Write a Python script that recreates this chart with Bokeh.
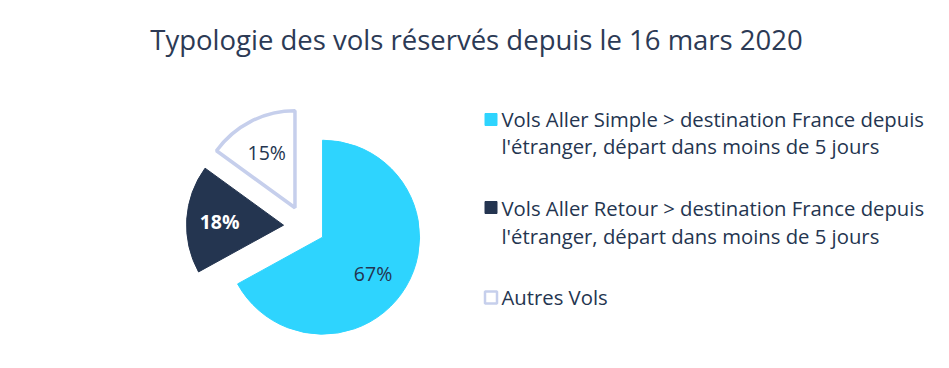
import numpy as np
from bokeh.plotting import figure
from bokeh.models import Range1d, ColumnDataSource
from bokeh.core.properties import value
from bokeh.embed import file_html
from bokeh.resources import INLINE

title = "Typologie des vols réservés depuis le 16 mars 2020"
categories = [
    ["Vols Aller Simple > destination France depuis",
     "l'étranger, départ dans moins de 5 jours"],
    ["Vols Aller Retour > destination France depuis",
     "l'étranger, départ dans moins de 5 jours"],
    ["Autres Vols"],
]
shares = [67, 18, 15]
labels = ["67%", "18%", "15%"]
fills = ["#2ed4fe", "#243550", "#ffffff"]
lines = ["#2ed4fe", "#243550", "#c6cfec"]
line_widths = [1, 1, 3.5]
label_colors = ["#243550", "#ffffff", "#243550"]
label_styles = ["normal", "bold", "normal"]

W, H = 933, 352
FONT = "Open Sans"

p = figure(width=W, height=H, output_backend="svg", toolbar_location=None,
           x_range=Range1d(0, W), y_range=Range1d(0, H), min_border=0,
           background_fill_color="white", border_fill_color="white")
p.axis.visible = False
p.grid.visible = False
p.outline_line_color = None

def page(px, py):
    return px, H - py

# pie geometry (clockwise from 12 o'clock)
cx, cy = page(304, 226)
R = 97
explode = 21
vals = np.array(shares, dtype=float)
frac = vals / vals.sum()
cum = np.concatenate([[0], np.cumsum(frac)])
start = np.pi / 2 - 2 * np.pi * cum[1:]
end = np.pi / 2 - 2 * np.pi * cum[:-1]
mid = (start + end) / 2
xs = cx + explode * np.cos(mid)
ys = cy + explode * np.sin(mid)

src = ColumnDataSource(dict(x=xs, y=ys, start=start, end=end, fill=fills, line=lines,
                            lw=line_widths))
p.wedge(x="x", y="y", radius=R, start_angle="start", end_angle="end",
        fill_color="fill", line_color="line", line_width="lw", source=src)

# labels
lr = np.array([0.64, 0.66, 0.64])
lang = mid + np.radians([-5, 0, 0])
lx = xs + lr * R * np.cos(lang)
ly = ys + lr * R * np.sin(lang)
lsrc = ColumnDataSource(dict(x=lx, y=ly, t=labels, c=label_colors, s=label_styles))
p.text(x="x", y="y", text="t", text_color="c", text_font_style="s", source=lsrc,
       text_font=value(FONT), text_font_size="19.5px", text_align="center",
       text_baseline="middle")

# title
tx, ty = page(476, 39)
p.text(x=[tx], y=[ty], text=[title], text_font=value(FONT), text_font_size="27.5px",
       text_color="#2c3a55", text_align="center", text_baseline="middle")

# legend
first_centers = [118, 207.5, 296.5]
sq_centers = [119, 207, 297]
line_step = 27.8
for i, (cat, yc) in enumerate(zip(categories, first_centers)):
    for k, ln in enumerate(cat):
        lxp, lyp = page(501, yc + k * line_step)
        p.text(x=[lxp], y=[lyp], text=[ln], text_font=value(FONT), text_font_size="20.3px",
               text_color="#243550", text_align="left", text_baseline="middle")
    sx, sy = page(490.5, sq_centers[i])
    p.rect(x=[sx], y=[sy], width=12, height=12, fill_color=fills[i],
           line_color=lines[i], line_width=2.5 if i == 2 else 1)

open("out.html", "w").write(file_html(p, INLINE))
